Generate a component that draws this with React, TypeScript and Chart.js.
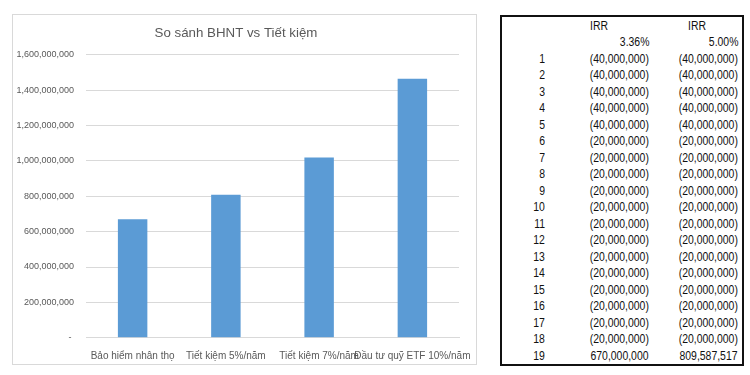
import React, { useEffect, useRef } from "react";
import { Chart, registerables } from "chart.js";

Chart.register(...registerables);

// ---- Chart data ----
const chartTitle = "So sánh BHNT vs Tiết kiệm";
const categories = [
  "Bảo hiểm nhân thọ",
  "Tiết kiệm 5%/năm",
  "Tiết kiệm 7%/năm",
  "Đầu tư quỹ ETF 10%/năm",
];
const values = [670000000, 809587517, 1020000000, 1465000000];
const yMin = 0;
const yMax = 1600000000;
const yStep = 200000000;

// ---- Table data ----
const irrHeaders = ["IRR", "IRR"];
const irrValues = ["3.36%", "5.00%"];
const years = [1, 2, 3, 4, 5, 6, 7, 8, 9, 10, 11, 12, 13, 14, 15, 16, 17, 18, 19];
const cashflowA = [
  -40000000, -40000000, -40000000, -40000000, -40000000,
  -20000000, -20000000, -20000000, -20000000, -20000000,
  -20000000, -20000000, -20000000, -20000000, -20000000,
  -20000000, -20000000, -20000000, 670000000,
];
const cashflowB = [
  -40000000, -40000000, -40000000, -40000000, -40000000,
  -20000000, -20000000, -20000000, -20000000, -20000000,
  -20000000, -20000000, -20000000, -20000000, -20000000,
  -20000000, -20000000, -20000000, 809587517,
];

const FONT = '"Liberation Sans", Arial, sans-serif';
const TABLE_FONT = '"Liberation Sans", Arial, sans-serif';

function fmtAcc(v: number): string {
  const s = Math.abs(v).toLocaleString("en-US");
  return v < 0 ? `(${s})` : s;
}

const ROW_TOP = 17.8;
const ROW_H = 16.49;
const SCALE_X = 0.835;

function Cell(props: { right?: number; center?: number; row: number; text: string }) {
  const top = ROW_TOP + props.row * ROW_H;
  const style: React.CSSProperties = {
    position: "absolute",
    top,
    height: ROW_H,
    lineHeight: `${ROW_H}px`,
    whiteSpace: "nowrap",
    fontFamily: TABLE_FONT,
    fontSize: 12.5,
    color: "#111",
    transform: `scaleX(${SCALE_X})`,
  };
  if (props.right !== undefined) {
    style.right = 750 - props.right;
    style.textAlign = "right";
    style.transformOrigin = "right center";
  } else if (props.center !== undefined) {
    style.left = props.center - 50;
    style.width = 100;
    style.textAlign = "center";
    style.transformOrigin = "center center";
  }
  return <div style={style}>{props.text}</div>;
}

export default function App() {
  const canvasRef = useRef<HTMLCanvasElement | null>(null);

  useEffect(() => {
    const canvas = canvasRef.current;
    if (!canvas) return;
    const chart = new Chart(canvas, {
      type: "bar",
      data: {
        labels: categories,
        datasets: [
          {
            label: "Series1",
            data: values,
            backgroundColor: "#5b9bd5",
            borderWidth: 0,
            barPercentage: 0.316,
            categoryPercentage: 1,
          },
        ],
      },
      options: {
        responsive: false,
        animation: false,
        layout: { padding: { left: 0, right: 17, top: 0, bottom: 0 } },
        plugins: {
          legend: { display: false },
          tooltip: { enabled: false },
          title: {
            display: true,
            text: chartTitle,
            color: "#595959",
            font: { family: FONT, size: 13.3, weight: "normal" },
            padding: { top: 10, bottom: 14 },
          },
        },
        scales: {
          x: {
            grid: { display: false },
            border: { display: true, color: "#d9d9d9" },
            ticks: {
              color: "#595959",
              font: { family: FONT, size: 10 },
              padding: 5,
              autoSkip: false,
              maxRotation: 0,
              minRotation: 0,
            },
            afterFit: (s: any) => {
              s.height = 26.3;
              s.paddingLeft = 0;
              s.paddingRight = 0;
            },
          },
          y: {
            min: yMin,
            max: yMax,
            grid: { color: "#d9d9d9", drawTicks: false },
            border: { display: false },
            ticks: {
              stepSize: yStep,
              color: "#595959",
              font: { family: FONT, size: 9 },
              padding: 12,
              callback: (v: any) => (Number(v) === 0 ? "- " : Number(v).toLocaleString("en-US")),
            },
            afterFit: (s: any) => {
              s.width = 73;
              s.paddingTop = 0;
              s.paddingBottom = 0;
            },
          },
        },
      } as any,
    });
    return () => chart.destroy();
  }, []);

  return (
    <div style={{ position: "absolute", left: 0, top: 0, width: 750, height: 375, background: "#fff" }}>
      <div
        style={{
          position: "absolute",
          left: 12,
          top: 14,
          width: 465,
          height: 351,
          border: "1px solid #d9d9d9",
          boxSizing: "border-box",
        }}
      />
      <canvas
        ref={canvasRef}
        width={463}
        height={349}
        style={{ position: "absolute", left: 13, top: 15, width: 463, height: 349, display: "block" }}
      />
      <div
        style={{
          position: "absolute",
          left: 500,
          top: 15,
          width: 244,
          height: 351,
          border: "2px solid #111",
          boxSizing: "border-box",
        }}
      />
      <Cell center={598.5} row={0} text={irrHeaders[0]} />
      <Cell center={697} row={0} text={irrHeaders[1]} />
      <Cell right={649} row={1} text={irrValues[0]} />
      <Cell right={738} row={1} text={irrValues[1]} />
      {years.map((y, i) => (
        <React.Fragment key={y}>
          <Cell right={544.5} row={i + 2} text={String(y)} />
          <Cell right={649} row={i + 2} text={fmtAcc(cashflowA[i])} />
          <Cell right={738} row={i + 2} text={fmtAcc(cashflowB[i])} />
        </React.Fragment>
      ))}
    </div>
  );
}
